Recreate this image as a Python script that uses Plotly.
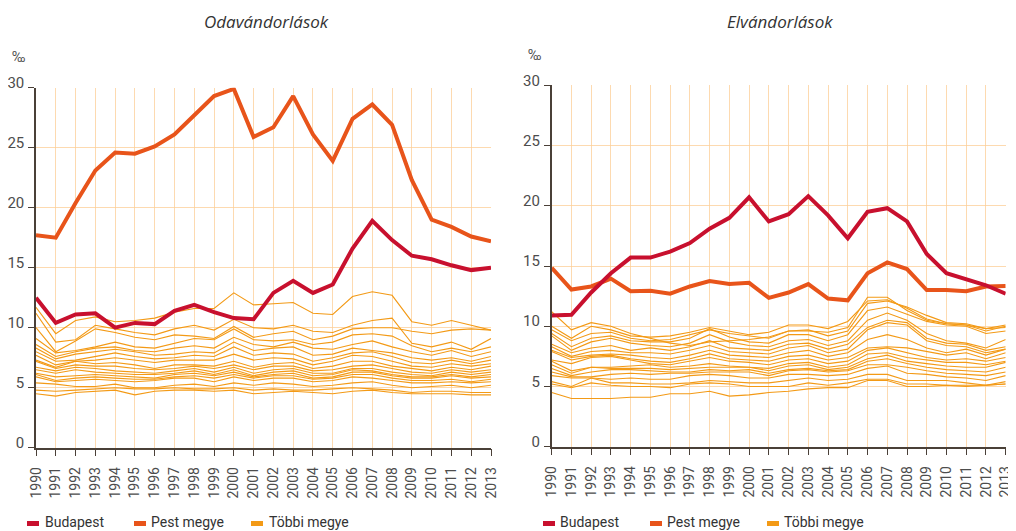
import plotly.graph_objects as go

years = list(range(1990, 2014))
year_labels = [str(y) for y in years]

# Odavándorlások (in-migration), per mille
in_budapest = [12.5, 10.4, 11.1, 11.2, 10.0, 10.4, 10.3, 11.4, 11.9, 11.3, 10.8, 10.7,
               12.9, 13.9, 12.9, 13.6, 16.6, 18.9, 17.3, 16.0, 15.7, 15.2, 14.8, 15.0]
in_pest = [17.7, 17.5, 20.4, 23.1, 24.6, 24.5, 25.1, 26.1, 27.7, 29.3, 29.9, 25.9,
           26.7, 29.3, 26.1, 23.9, 27.4, 28.6, 26.9, 22.3, 19.0, 18.4, 17.6, 17.2]
in_other = [
    [11.7, 9.5, 10.6, 10.9, 10.5, 10.6, 10.8, 11.3, 11.6, 11.6, 12.9, 11.9, 12.0, 12.1, 11.2, 11.1, 12.6, 13.0, 12.7, 10.5, 10.2, 10.6, 10.2, 9.8],
    [11.2, 8.8, 9.0, 10.2, 9.9, 9.6, 9.4, 9.9, 10.2, 9.8, 10.7, 10.0, 9.9, 10.2, 9.7, 9.6, 10.2, 10.6, 10.8, 8.7, 8.4, 8.8, 8.2, 9.1],
    [10.0, 8.0, 8.9, 9.9, 9.6, 9.2, 9.0, 9.4, 9.3, 9.1, 10.1, 9.2, 9.5, 9.7, 9.0, 9.3, 9.9, 10.0, 10.0, 9.7, 9.5, 9.8, 9.9, 9.8],
    [9.1, 7.9, 8.1, 8.4, 8.8, 8.4, 8.3, 8.7, 9.1, 9.0, 9.9, 9.0, 8.9, 9.0, 8.6, 8.8, 9.4, 9.5, 9.3, 8.5, 8.0, 8.3, 8.0, 8.4],
    [8.6, 7.6, 8.0, 8.3, 8.4, 8.1, 8.0, 8.3, 8.5, 8.3, 9.2, 8.6, 8.4, 8.8, 8.3, 8.2, 8.6, 8.9, 8.4, 8.0, 7.7, 8.1, 7.6, 8.0],
    [8.3, 7.4, 7.8, 8.0, 8.2, 8.0, 7.7, 7.8, 8.0, 7.9, 8.8, 8.1, 8.3, 8.4, 7.7, 7.8, 8.3, 8.1, 7.9, 7.5, 7.3, 7.5, 7.2, 7.6],
    [8.0, 7.2, 7.3, 7.6, 7.9, 7.6, 7.4, 7.5, 7.7, 7.6, 8.4, 7.7, 7.9, 7.8, 7.2, 7.5, 7.9, 8.0, 7.6, 7.1, 7.0, 7.3, 7.0, 7.3],
    [7.7, 6.9, 7.2, 7.3, 7.5, 7.3, 7.1, 7.3, 7.3, 7.3, 7.8, 7.3, 7.5, 7.4, 6.9, 7.2, 7.7, 7.6, 7.2, 6.8, 6.7, 7.0, 6.8, 7.0],
    [7.3, 6.7, 7.2, 7.0, 7.1, 6.9, 6.6, 6.9, 6.9, 6.8, 7.2, 6.7, 7.0, 7.1, 6.6, 6.8, 7.2, 7.2, 6.8, 6.6, 6.4, 6.7, 6.5, 6.8],
    [7.2, 6.6, 6.9, 6.8, 6.8, 6.6, 6.5, 6.6, 6.8, 6.6, 6.9, 6.5, 6.8, 6.8, 6.4, 6.5, 6.8, 6.9, 6.6, 6.3, 6.2, 6.5, 6.3, 6.5],
    [6.7, 6.4, 6.7, 6.6, 6.4, 6.3, 6.2, 6.4, 6.6, 6.3, 6.7, 6.2, 6.5, 6.6, 6.2, 6.2, 6.6, 6.6, 6.3, 6.1, 6.0, 6.3, 6.1, 6.3],
    [6.5, 6.2, 6.5, 6.3, 6.2, 6.1, 6.1, 6.2, 6.4, 6.1, 6.5, 6.0, 6.3, 6.4, 6.0, 6.1, 6.5, 6.4, 6.1, 5.9, 5.9, 6.1, 5.9, 6.1],
    [6.2, 5.9, 6.0, 6.1, 6.0, 5.9, 5.8, 6.1, 6.2, 6.0, 6.3, 5.9, 6.1, 6.2, 5.8, 5.9, 6.3, 6.3, 6.0, 5.8, 5.8, 6.0, 5.8, 5.9],
    [6.1, 5.6, 5.8, 5.9, 5.8, 5.7, 5.7, 5.9, 6.0, 5.8, 6.1, 5.8, 6.0, 6.0, 5.7, 5.8, 6.1, 6.1, 5.8, 5.6, 5.6, 5.7, 5.5, 5.7],
    [5.9, 5.5, 5.6, 5.7, 5.6, 5.5, 5.6, 5.8, 5.8, 5.5, 5.9, 5.6, 5.8, 5.8, 5.5, 5.6, 5.9, 5.8, 5.6, 5.4, 5.4, 5.5, 5.4, 5.5],
    [5.4, 5.3, 5.1, 5.1, 5.3, 5.0, 5.0, 5.2, 5.3, 5.1, 5.4, 5.2, 5.4, 5.3, 5.1, 5.2, 5.4, 5.5, 5.2, 5.0, 5.1, 5.2, 5.0, 5.2],
    [4.8, 4.7, 4.8, 4.9, 5.0, 4.9, 4.9, 5.0, 4.9, 4.9, 5.0, 4.8, 4.9, 4.8, 4.8, 4.9, 5.0, 4.9, 4.8, 4.6, 4.7, 4.7, 4.6, 4.6],
    [4.5, 4.3, 4.6, 4.7, 4.8, 4.4, 4.7, 4.8, 4.8, 4.7, 4.8, 4.5, 4.6, 4.7, 4.6, 4.5, 4.7, 4.8, 4.6, 4.5, 4.5, 4.5, 4.4, 4.4],
]

# Elvándorlások (out-migration), per mille
out_budapest = [10.9, 10.95, 12.8, 14.4, 15.7, 15.7, 16.2, 16.9, 18.1, 19.0, 20.7, 18.7,
                19.3, 20.8, 19.2, 17.3, 19.5, 19.8, 18.7, 16.0, 14.4, 13.9, 13.4, 12.7]
out_pest = [14.85, 13.05, 13.3, 13.95, 12.9, 12.95, 12.7, 13.3, 13.75, 13.5, 13.6, 12.35,
            12.8, 13.5, 12.3, 12.15, 14.4, 15.3, 14.75, 13.0, 13.0, 12.9, 13.3, 13.35]
out_other = [
    [11.2, 9.7, 10.3, 10.0, 9.4, 9.0, 8.6, 8.4, 8.7, 8.8, 8.9, 9.1, 9.6, 9.6, 9.5, 9.9, 12.4, 12.4, 11.3, 10.5, 10.2, 10.1, 9.8, 10.1],
    [10.0, 9.0, 10.0, 9.7, 9.2, 9.1, 9.2, 9.5, 9.9, 9.6, 9.3, 9.5, 10.1, 10.1, 9.8, 10.4, 12.1, 12.2, 11.5, 10.6, 10.2, 10.1, 9.6, 10.0],
    [9.7, 8.8, 9.4, 9.5, 9.0, 8.8, 8.9, 9.3, 9.7, 9.4, 9.2, 9.0, 9.6, 9.7, 9.2, 9.6, 11.9, 12.1, 11.6, 10.9, 10.3, 10.2, 9.8, 9.9],
    [9.4, 8.3, 9.0, 9.2, 8.8, 8.7, 8.7, 9.0, 9.8, 9.1, 8.7, 8.6, 9.3, 9.3, 8.8, 9.3, 11.3, 11.6, 11.0, 10.4, 10.1, 10.0, 9.4, 9.6],
    [9.2, 8.0, 8.7, 9.0, 8.6, 8.4, 8.3, 8.6, 9.3, 8.7, 8.4, 8.3, 8.8, 8.9, 8.4, 8.8, 10.5, 11.1, 10.5, 9.4, 8.8, 8.6, 8.2, 8.9],
    [8.5, 7.8, 8.2, 8.4, 8.0, 8.2, 8.0, 8.3, 8.8, 8.2, 8.1, 8.0, 8.5, 8.6, 8.1, 8.5, 9.9, 10.5, 10.3, 9.0, 8.6, 8.5, 8.0, 8.3],
    [8.3, 7.5, 7.9, 8.0, 7.8, 7.8, 7.7, 8.0, 8.4, 7.9, 7.8, 7.7, 8.2, 8.4, 7.8, 8.1, 9.7, 10.3, 10.1, 8.8, 8.4, 8.3, 7.8, 8.1],
    [8.0, 7.4, 7.6, 7.7, 7.6, 7.4, 7.3, 7.6, 8.0, 7.6, 7.5, 7.4, 7.8, 8.0, 7.5, 7.8, 8.9, 9.3, 8.9, 8.2, 7.8, 8.1, 7.6, 8.1],
    [7.9, 7.2, 7.5, 7.6, 7.3, 7.1, 7.0, 7.3, 7.7, 7.3, 7.2, 7.1, 7.5, 7.6, 7.2, 7.4, 8.2, 8.3, 8.2, 7.9, 7.6, 7.8, 7.3, 7.8],
    [7.2, 6.9, 7.4, 7.5, 7.2, 6.9, 6.8, 7.1, 7.4, 7.1, 7.0, 6.8, 7.2, 7.3, 6.9, 7.1, 8.0, 8.2, 7.8, 7.4, 7.2, 7.3, 7.1, 7.4],
    [7.1, 6.3, 6.6, 6.6, 6.7, 6.8, 6.6, 6.7, 6.9, 6.7, 6.6, 6.5, 6.9, 7.0, 6.6, 6.8, 7.7, 7.8, 7.4, 7.2, 7.0, 7.0, 6.8, 7.1],
    [6.8, 6.1, 6.6, 6.5, 6.5, 6.5, 6.4, 6.5, 6.6, 6.6, 6.6, 6.3, 6.7, 6.8, 6.4, 6.6, 7.3, 7.6, 7.1, 6.9, 6.7, 6.6, 6.6, 7.0],
    [6.5, 5.9, 6.2, 6.4, 6.4, 6.3, 6.2, 6.2, 6.4, 6.3, 6.4, 6.1, 6.4, 6.5, 6.3, 6.4, 7.1, 7.3, 6.9, 6.6, 6.4, 6.3, 6.2, 6.6],
    [6.2, 5.8, 5.8, 6.0, 6.1, 6.0, 6.1, 6.1, 6.2, 6.2, 6.2, 5.9, 6.3, 6.4, 6.2, 6.3, 6.8, 6.8, 6.6, 6.3, 6.1, 6.0, 5.9, 6.2],
    [5.9, 5.7, 5.7, 5.6, 5.7, 5.6, 5.6, 5.9, 6.0, 5.9, 5.7, 5.7, 6.0, 6.0, 5.9, 6.0, 6.5, 6.7, 6.1, 6.0, 5.8, 5.7, 5.5, 5.9],
    [5.4, 5.0, 5.7, 5.3, 5.3, 5.2, 5.2, 5.3, 5.5, 5.4, 5.3, 5.3, 5.5, 5.7, 5.5, 5.6, 6.0, 6.0, 5.5, 5.5, 5.5, 5.3, 5.1, 5.4],
    [5.2, 4.9, 5.3, 5.1, 5.0, 5.0, 4.9, 5.2, 5.3, 5.2, 5.0, 5.0, 5.0, 5.3, 5.1, 5.3, 5.6, 5.6, 5.2, 5.2, 5.1, 5.1, 5.1, 5.2],
    [4.5, 4.0, 4.0, 4.0, 4.1, 4.1, 4.4, 4.4, 4.6, 4.2, 4.3, 4.5, 4.6, 4.8, 4.9, 4.9, 5.5, 5.5, 5.0, 5.0, 5.1, 5.0, 5.1, 5.2],
]

titles = ["Odavándorlások", "Elvándorlások"]
legend_names = ["Budapest", "Pest megye", "Többi megye"]
y_ticks = [0, 5, 10, 15, 20, 25, 30]
unit_label = "‰"

C_BUD = "#c8102e"
C_PEST = "#e8541a"
C_OTHER = "#f39a16"
GRID = "rgba(252,205,150,0.75)"
AXIS = "#4a4038"
TXT = "#4d4d4d"
FONT = "Liberation Sans Narrow, Roboto, Arial, sans-serif"

# The page body has an 8px default margin; the figure is sized to fill the
# rest of the 1016x531 window and page-pixel positions are mapped accordingly.
OFF = 8
W, H = 1016 - OFF, 531 - OFF

def px(x):
    return (x - OFF) / W

def py(y):
    return 1 - (y - OFF) / H

fig = go.Figure()

panels = [
    dict(bud=in_budapest, pest=in_pest, other=in_other, xa="x", ya="y"),
    dict(bud=out_budapest, pest=out_pest, other=out_other, xa="x2", ya="y2"),
]
for p in panels:
    for ser in p["other"]:
        fig.add_trace(go.Scatter(x=years, y=ser, mode="lines", xaxis=p["xa"], yaxis=p["ya"],
                                 line=dict(color=C_OTHER, width=1.1), showlegend=False,
                                 hoverinfo="skip"))
    fig.add_trace(go.Scatter(x=years, y=p["pest"], mode="lines", xaxis=p["xa"], yaxis=p["ya"],
                             line=dict(color=C_PEST, width=4), showlegend=False))
    fig.add_trace(go.Scatter(x=years, y=p["bud"], mode="lines", xaxis=p["xa"], yaxis=p["ya"],
                             line=dict(color=C_BUD, width=4), showlegend=False))

xcommon = dict(range=[1990, 2013], tickmode="array", tickvals=years, ticktext=year_labels,
               tickangle=-90, showgrid=True, gridcolor=GRID, gridwidth=1.2,
               showline=True, linecolor=AXIS, linewidth=1.5, ticks="outside", ticklen=7,
               tickcolor=AXIS, tickwidth=1.2, tickfont=dict(family=FONT, size=14, color=TXT),
               ticklabelstandoff=5,
               zeroline=False, fixedrange=True, automargin=False)
ycommon = dict(range=[0, 30], tickmode="array", tickvals=y_ticks,
               showgrid=True, gridcolor=GRID, gridwidth=1.2,
               showline=True, linecolor=AXIS, linewidth=1.5, ticks="outside", ticklen=6,
               tickcolor=AXIS, tickwidth=1, ticklabelposition="outside",
               ticklabelshift=-5, ticklabelstandoff=1,
               tickfont=dict(family=FONT, size=15, color=TXT), zeroline=False, fixedrange=True,
               automargin=False)

fig.update_layout(
    width=W, height=H,
    margin=dict(l=0, r=0, t=0, b=0, autoexpand=False),
    paper_bgcolor="white", plot_bgcolor="white",
    showlegend=False,
    xaxis=dict(domain=[px(36), px(491)], anchor="y", **xcommon),
    yaxis=dict(domain=[py(447.7), py(87.7)], anchor="x", **ycommon),
    xaxis2=dict(domain=[px(551.7), px(1005.7)], anchor="y2", **xcommon),
    yaxis2=dict(domain=[py(446.7), py(85.3)], anchor="x2", **ycommon),
)

# Titles and unit labels
ann = []
for cx, t in zip([266, 780], titles):
    ann.append(dict(x=px(cx), y=py(22), xref="paper", yref="paper", text=t, showarrow=False,
                    xanchor="center", yanchor="middle",
                    font=dict(family="Open Sans, Roboto, sans-serif", size=17, color="#333333",
                              style="italic")))
for ux, uy in [(18, 57), (534, 55)]:
    ann.append(dict(x=px(ux), y=py(uy), xref="paper", yref="paper", text=unit_label,
                    showarrow=False, xanchor="center", yanchor="middle",
                    font=dict(family=FONT, size=14, color=TXT)))

# Manual legends (one under each panel)
shapes = []
legend_cols = [C_BUD, C_PEST, C_OTHER]
legend_pos = [
    [(27, 43), (134, 149), (251, 267)],
    [(543, 558), (650, 665), (767, 782)],
]
for pos in legend_pos:
    for (mx, tx), col, name in zip(pos, legend_cols, legend_names):
        shapes.append(dict(type="rect", xref="paper", yref="paper",
                           x0=px(mx), x1=px(mx + 12), y0=py(526), y1=py(521),
                           fillcolor=col, line=dict(width=0)))
        ann.append(dict(x=px(tx), y=py(522), xref="paper", yref="paper", text=name,
                        showarrow=False, xanchor="left", yanchor="middle",
                        font=dict(family=FONT, size=14, color="#333333")))

fig.update_layout(annotations=ann, shapes=shapes)

fig.write_html("out.html")
